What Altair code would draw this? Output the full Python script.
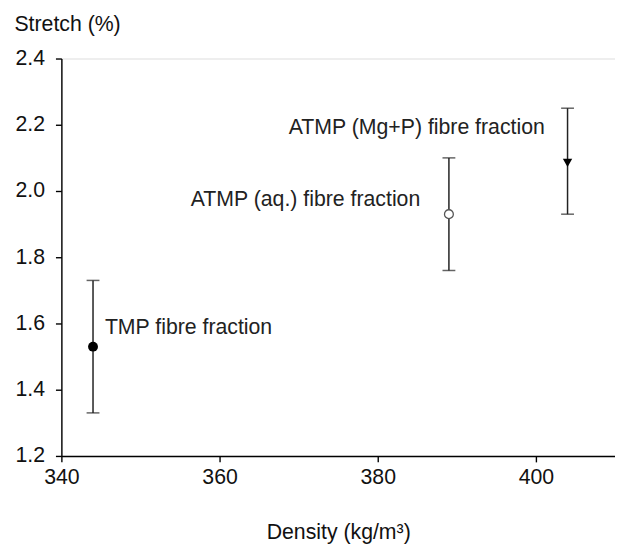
import altair as alt
import pandas as pd

names = ["TMP fibre fraction", "ATMP (aq.) fibre fraction", "ATMP (Mg+P) fibre fraction"]
density = [344, 389, 404]
stretch = [1.53, 1.93, 2.085]
err_low = [1.33, 1.76, 1.93]
err_high = [1.73, 2.10, 2.25]
marker = ["filled", "open", "triangle"]

df = pd.DataFrame({"name": names, "density": density, "stretch": stretch,
                   "lo": err_low, "hi": err_high, "marker": marker})

FONT = "Liberation Sans"
FS = 21.5

x = alt.X("density:Q", scale=alt.Scale(domain=[340, 410], nice=False, zero=False),
          axis=alt.Axis(values=[340, 360, 380, 400], title="Density (kg/m³)", grid=False,
                        domainColor="black", domainWidth=1.4, tickColor="black", tickWidth=1.4,
                        tickSize=6, labelFont=FONT, labelFontSize=FS, labelColor="#111",
                        labelPadding=5, labelFlush=False, titleFont=FONT, titleFontSize=FS,
                        titleFontWeight="normal", titleColor="#111", titlePadding=34))
y = alt.Y("stretch:Q", scale=alt.Scale(domain=[1.2, 2.4], nice=False, zero=False),
          axis=alt.Axis(values=[1.2, 1.4, 1.6, 1.8, 2.0, 2.2, 2.4], format=".1f", title="Stretch (%)",
                        grid=False, domainColor="black", domainWidth=1.4, tickColor="black",
                        tickWidth=1.4, tickSize=6, labelFont=FONT, labelFontSize=FS,
                        labelColor="#111", labelPadding=11, labelFlush=False, titleFont=FONT,
                        titleFontSize=FS, titleFontWeight="normal", titleColor="#111", titleAngle=0,
                        titleAlign="left", titleBaseline="alphabetic", titleX=-48, titleY=-28))

base = alt.Chart(df)

rules = base.mark_rule(color="#222", strokeWidth=1.5).encode(x=x, y="lo:Q", y2="hi:Q")
caps_lo = base.mark_tick(color="#222", thickness=1.5, size=13, orient="horizontal").encode(x=x, y="lo:Q")
caps_hi = base.mark_tick(color="#222", thickness=1.5, size=13, orient="horizontal").encode(x=x, y="hi:Q")

pt_filled = base.transform_filter(alt.datum.marker == "filled").mark_point(
    shape="circle", filled=True, color="black", size=100, opacity=1).encode(x=x, y=y)
pt_open = base.transform_filter(alt.datum.marker == "open").mark_point(
    shape="circle", filled=True, fill="white", stroke="#555", strokeWidth=1.3, size=80, opacity=1).encode(x=x, y=y)
pt_tri = base.transform_filter(alt.datum.marker == "triangle").mark_point(
    shape="triangle-down", filled=True, color="black", size=90, opacity=1).encode(x=x, y=y)

lab_tmp = base.transform_filter(alt.datum.marker == "filled").mark_text(
    align="left", baseline="middle", dx=12, dy=-19, font=FONT, fontSize=FS, color="#222").encode(
    x=x, y=y, text="name:N")
lab_aq = base.transform_filter(alt.datum.marker == "open").mark_text(
    align="right", baseline="middle", dx=-29, dy=-14, font=FONT, fontSize=FS, color="#222").encode(
    x=x, y=y, text="name:N")
lab_mg = base.transform_filter(alt.datum.marker == "triangle").mark_text(
    align="right", baseline="middle", dx=-23, dy=-35, font=FONT, fontSize=FS, color="#222").encode(
    x=x, y=y, text="name:N")

chart = alt.layer(rules, caps_lo, caps_hi, pt_filled, pt_open, pt_tri, lab_tmp, lab_aq, lab_mg).properties(
    width=560, height=402,
    autosize=alt.AutoSizeParams(type="none"),
    padding={"left": 54, "top": 48, "right": 0, "bottom": 90},
).configure_view(stroke=None).configure(background="white")

chart.save("out.html", embed_options={"renderer": "svg", "actions": False})
